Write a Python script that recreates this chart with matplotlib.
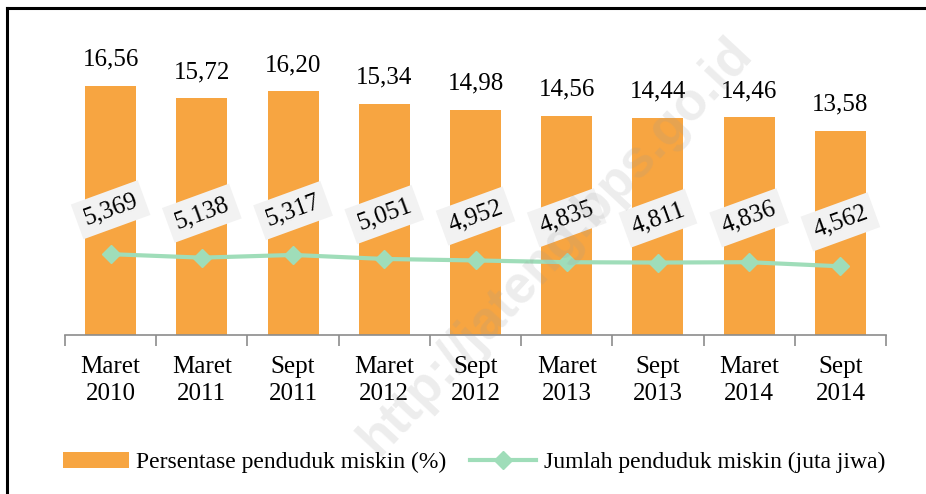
import matplotlib

matplotlib.use("Agg")
import matplotlib.pyplot as plt
from matplotlib.lines import Line2D

periods = ["Maret\n2010", "Maret\n2011", "Sept\n2011", "Maret\n2012", "Sept\n2012",
           "Maret\n2013", "Sept\n2013", "Maret\n2014", "Sept\n2014"]
persen = [16.56, 15.72, 16.20, 15.34, 14.98, 14.56, 14.44, 14.46, 13.58]
jumlah = [5.369, 5.138, 5.317, 5.051, 4.952, 4.835, 4.811, 4.836, 4.562]

BAR = "#F7A541"
LINE = "#9FDDB9"
SERIF = ["Liberation Serif", "DejaVu Serif"]

plt.rcParams["font.family"] = SERIF

fig = plt.figure(figsize=(9.26, 4.94), dpi=100)
ax = fig.add_axes([0.0702, 0.322, 0.8866, 0.609])
ax2 = ax.twinx()

x = list(range(len(periods)))
bars = ax.bar(x, persen, width=0.56, color=BAR, label="Persentase penduduk miskin (%)", zorder=2)
for xi, v in zip(x, persen):
    ax.annotate(f"{v:.2f}".replace(".", ","), (xi, v), xytext=(0, 11),
                textcoords="offset points", ha="center", va="bottom", fontsize=18)

ln, = ax2.plot(x, jumlah, color=LINE, lw=3, marker="D", ms=9, mec=LINE,
               label="Jumlah penduduk miskin (juta jiwa)", zorder=3)
for xi, v in zip(x, jumlah):
    ax2.annotate(f"{v:.3f}".replace(".", ","), (xi, v), xytext=(0, 32),
                 textcoords="offset points", ha="center", va="center", fontsize=18,
                 rotation=20,
                 bbox=dict(boxstyle="square,pad=0.3", fc="#F2F2F2", ec="none"))

for a in (ax, ax2):
    a.set_ylim(0, 20)
    a.set_xlim(-0.5, len(periods) - 0.5)
    a.set_yticks([])
    for s in ("top", "left", "right"):
        a.spines[s].set_visible(False)
ax.spines["bottom"].set_color("#8C8C8C")
ax.spines["bottom"].set_linewidth(1.2)
ax2.spines["bottom"].set_visible(False)

ax.set_xticks(x)
ax.set_xticklabels(periods, fontsize=18, linespacing=1.3)
ax.tick_params(axis="x", which="major", length=0, pad=15)
ax.set_xticks([i - 0.5 for i in range(len(periods) + 1)], minor=True)
ax.tick_params(axis="x", which="minor", length=8, color="#8C8C8C", width=1.2)

fig.legend(handles=[bars, ln], loc="center", bbox_to_anchor=(0.512, 0.064), ncol=2,
           frameon=False, fontsize=17, handlelength=2.8, columnspacing=1.0,
           handletextpad=0.3)

# faint watermark
fig.text(0.6, 0.5, "http://jateng.bps.go.id", fontsize=38, fontweight="bold",
         family=["Liberation Sans", "DejaVu Sans"], color="#9A9A9A", alpha=0.18,
         rotation=47, ha="center", va="center")

# outer frame (cut off at right and bottom)
fig.add_artist(Line2D([0.0076, 1.0], [0.984, 0.984], color="black", lw=2.2))
fig.add_artist(Line2D([0.0076, 0.0076], [0.0, 0.984], color="black", lw=2.2))

fig.savefig("out.png", dpi=100)
